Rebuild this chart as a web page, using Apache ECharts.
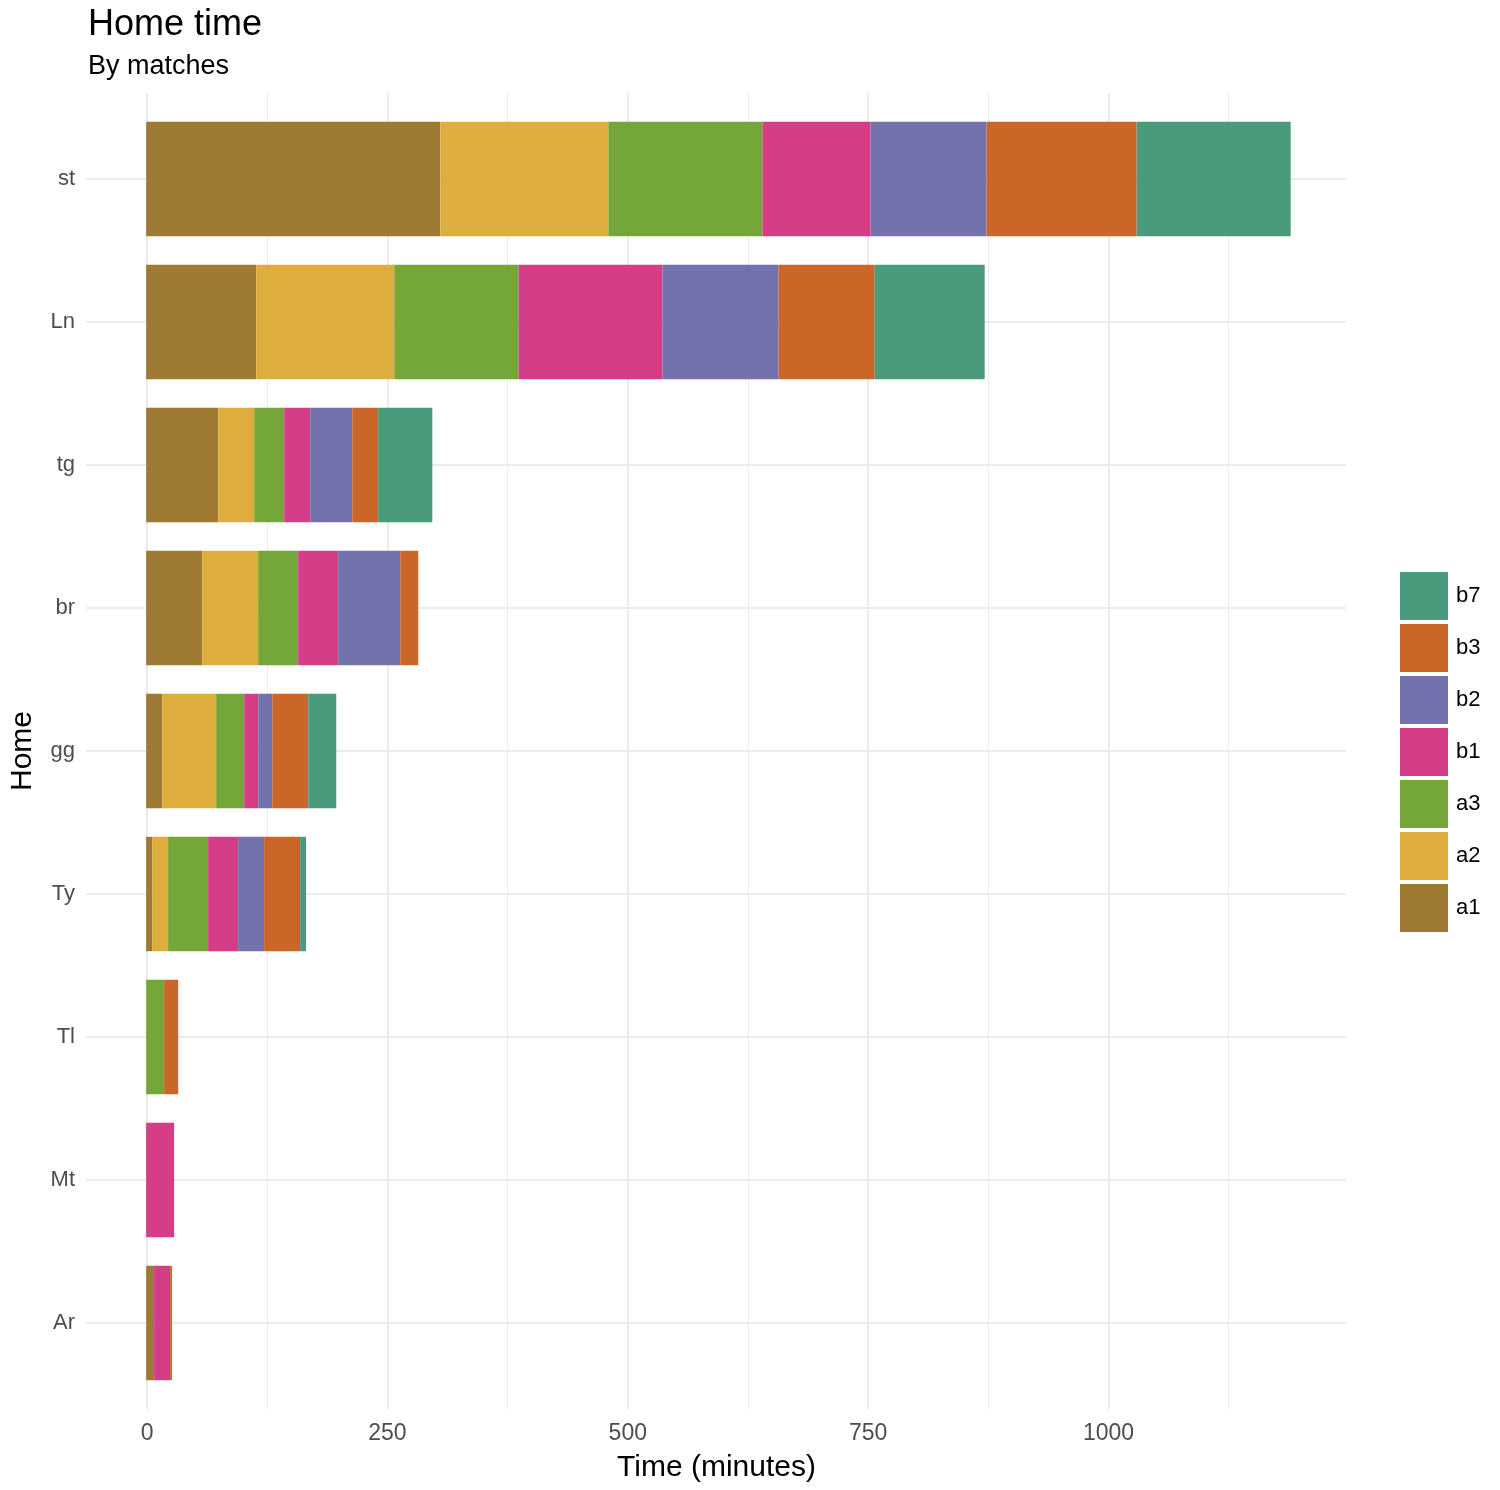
<!DOCTYPE html>
<html>
<head>
<meta charset="utf-8">
<script src="https://cdn.jsdelivr.net/npm/echarts@6/dist/echarts.min.js"></script>
<style>
html,body{margin:0;padding:0;background:#fff;}
#c{width:1500px;height:1490px;}
</style>
</head>
<body>
<div id="c"></div>
<script>
// ---- data ----
var homes = ['st', 'Ln', 'tg', 'br', 'gg', 'Ty', 'Tl', 'Mt', 'Ar'];
var seriesNames = ['a1', 'a2', 'a3', 'b1', 'b2', 'b3', 'b7'];
var a1 = [305.7, 114.4, 74.9, 58.2, 16.6, 6.2, 0, 0, 8.3];
var a2 = [174.7, 143.5, 37.4, 58.2, 56.2, 16.6, 0, 0, 0];
var a3 = [160.1, 129.0, 31.2, 41.6, 29.1, 41.6, 18.7, 0, 0];
var b1 = [112.3, 149.8, 27.0, 41.6, 14.6, 31.2, 0, 29.1, 16.6];
var b2 = [120.6, 120.6, 43.7, 64.5, 14.6, 27.0, 0, 0, 0];
var b3 = [156.0, 99.8, 27.0, 18.7, 37.4, 37.4, 14.6, 0, 2.0];
var b7 = [160.1, 114.4, 56.2, 0, 29.1, 6.2, 0, 0, 0];
var xTickLabels = [0, 250, 500, 750, 1000];

var values = {a1: a1, a2: a2, a3: a3, b1: b1, b2: b2, b3: b3, b7: b7};
var colors = {a1: '#9F7A32', a2: '#DDAE3D', a3: '#75A63A', b1: '#D53E87', b2: '#7372AD', b3: '#C96628', b7: '#4A9B7B'};

var FONT = 'Liberation Sans, Arial, Helvetica, sans-serif';
var GRID = '#ebebeb';
var T = 'rgba(0,0,0,0)';
var XMIN = -62.5, XMAX = 1247, XINT = 62.5;

var chart = echarts.init(document.getElementById('c'), null, {renderer: 'canvas'});

var series = seriesNames.map(function (n) {
  return {
    name: n,
    type: 'bar',
    stack: 'total',
    xAxisIndex: 2,
    yAxisIndex: 1,
    barCategoryGap: '20%',
    itemStyle: {color: colors[n]},
    emphasis: {disabled: true},
    data: values[n]
  };
});

var option = {
  animation: false,
  backgroundColor: '#fff',
  textStyle: {fontFamily: FONT},
  title: {
    text: 'Home time',
    subtext: 'By matches',
    left: 88,
    top: 7,
    padding: 0,
    itemGap: 10,
    textStyle: {fontFamily: FONT, fontSize: 36, fontWeight: 'normal', color: '#000'},
    subtextStyle: {fontFamily: FONT, fontSize: 27, color: '#000'}
  },
  legend: {
    orient: 'vertical',
    left: 1400,
    top: 572,
    padding: 0,
    itemWidth: 48,
    itemHeight: 48,
    itemGap: 4,
    icon: 'rect',
    data: seriesNames.slice().reverse(),
    textStyle: {fontFamily: FONT, fontSize: 22, color: '#000', padding: [0, 0, 0, 3]},
    selectedMode: false
  },
  grid: [
    {left: 86, right: 154, top: 93, bottom: 81, containLabel: false},
    {left: 86, right: 154, top: 107.5, bottom: 95.5, containLabel: false}
  ],
  xAxis: [
    { // major gridlines + labels
      type: 'value', gridIndex: 0, min: XMIN, max: XMAX, interval: XINT,
      name: 'Time (minutes)', nameLocation: 'middle', nameGap: 44,
      nameTextStyle: {fontFamily: FONT, fontSize: 30, color: '#000'},
      axisLine: {show: false}, axisTick: {show: false},
      axisLabel: {
        fontFamily: FONT, fontSize: 23, color: '#4d4d4d', margin: 13,
        showMinLabel: true, showMaxLabel: false,
        formatter: function (v) {
          for (var i = 0; i < xTickLabels.length; i++) {
            if (Math.abs(v - xTickLabels[i]) < 1e-6) return String(xTickLabels[i]);
          }
          return '';
        }
      },
      splitLine: {show: true, showMaxLine: false, lineStyle: {color: [T, GRID, T, T], width: 2}}
    },
    { // minor gridlines
      type: 'value', gridIndex: 0, min: XMIN, max: XMAX, interval: XINT,
      axisLine: {show: false}, axisTick: {show: false}, axisLabel: {show: false},
      splitLine: {show: true, showMaxLine: false, lineStyle: {color: [T, T, T, GRID], width: 1}}
    },
    { // bars
      type: 'value', gridIndex: 1, min: XMIN, max: XMAX, interval: XINT,
      axisLine: {show: false}, axisTick: {show: false}, axisLabel: {show: false},
      splitLine: {show: false}
    }
  ],
  yAxis: [
    {
      type: 'value', gridIndex: 0, min: 0, max: 1,
      name: 'Home', nameLocation: 'middle', nameGap: 49, nameRotate: 90,
      nameTextStyle: {fontFamily: FONT, fontSize: 30, color: '#000'},
      axisLine: {show: false}, axisTick: {show: false}, axisLabel: {show: false},
      splitLine: {show: false}
    },
    {
      type: 'category', gridIndex: 1, data: homes, inverse: true,
      axisLine: {show: false},
      axisTick: {show: false, alignWithLabel: true},
      axisLabel: {fontFamily: FONT, fontSize: 22, color: '#4d4d4d', margin: 11},
      splitLine: {show: true, alignWithLabel: true, lineStyle: {color: GRID, width: 2}}
    }
  ],
  series: series
};

chart.setOption(option);
</script>
</body>
</html>
